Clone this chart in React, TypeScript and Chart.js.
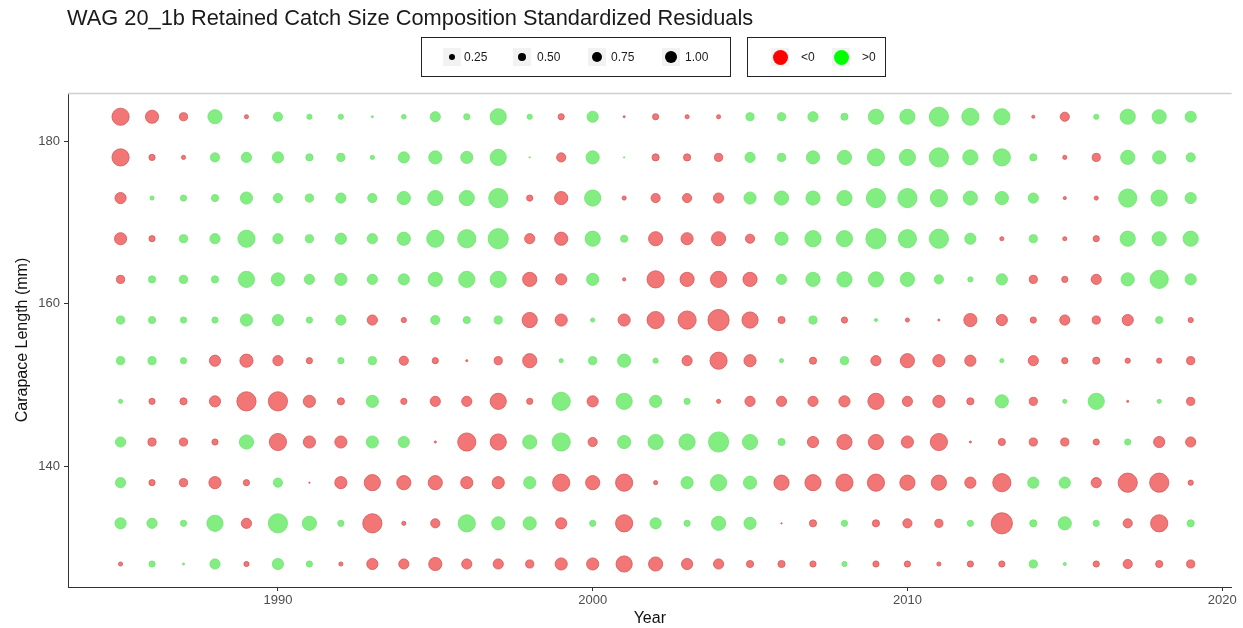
import React, { useEffect, useRef } from "react";
import { Chart, registerables } from "chart.js";

Chart.register(...registerables);

const years = [
  1985, 1986, 1987, 1988, 1989, 1990, 1991, 1992, 1993, 1994,
  1995, 1996, 1997, 1998, 1999, 2000, 2001, 2002, 2003, 2004,
  2005, 2006, 2007, 2008, 2009, 2010, 2011, 2012, 2013, 2014,
  2015, 2016, 2017, 2018, 2019,
];

const lengths = [183, 178, 173, 168, 163, 158, 153, 148, 143, 138, 133, 128];

const res183 = [-2.25, -1.36, -0.56, 1.56, -0.17, 0.69, 0.25, 0.25, 0.06, 0.21, 0.84, 0.34, 2.01, 0.25, -0.34, 1.0, -0.06, -0.34, -0.17, -0.17, 0.56, 0.56, 0.84, 0.44, 1.78, 1.78, 2.78, 2.25, 2.01, -0.11, -0.69, 0.25, 1.78, 1.56, 1.0];
const res178 = [-2.25, -0.34, -0.17, 0.69, 0.84, 1.0, 0.44, 0.56, 0.17, 1.0, 1.36, 1.17, 2.01, 0.03, -0.69, 1.36, 0.03, -0.44, -0.44, -0.56, 0.84, 0.56, 1.36, 1.56, 2.25, 2.01, 2.78, 1.78, 2.25, 0.44, -0.17, -0.56, 1.56, 1.36, 0.69];
const res173 = [-1.0, 0.17, 0.34, 0.44, 1.17, 0.69, 0.56, 0.84, 0.69, 1.36, 1.78, 1.78, 2.78, -0.34, -1.36, 2.01, -0.17, -0.69, -0.69, -0.84, 1.17, 1.56, 1.56, 1.78, 2.78, 2.78, 2.25, 1.56, 1.36, 0.84, -0.11, -0.17, 2.51, 2.01, 1.0];
const res168 = [-1.17, -0.34, 0.56, 0.84, 2.25, 0.84, 0.56, 1.0, 0.84, 1.36, 2.25, 2.51, 3.06, -0.84, -1.36, 1.78, 0.44, -1.56, -1.17, -1.56, -0.69, 1.36, 2.01, 2.01, 3.06, 2.51, 2.78, 1.0, -0.17, 0.56, -0.17, -0.34, 1.78, 1.56, 1.78];
const res163 = [-0.56, 0.44, 0.56, 0.44, 2.01, 1.36, 0.84, 1.17, 0.84, 1.0, 1.56, 2.01, 2.01, -1.56, -1.0, 1.17, -0.11, -2.25, -1.56, -2.01, -1.56, 0.84, 1.56, 1.78, 1.78, 1.56, 0.69, 0.25, 1.0, -0.56, -0.34, -0.84, 1.36, 2.51, 1.0];
const res158 = [0.56, 0.44, 0.34, 0.34, 1.17, 1.0, 0.34, 0.84, -0.84, -0.25, 0.69, 0.44, 0.56, -1.78, -1.17, 0.17, -1.17, -2.25, -2.51, -3.36, -2.01, -0.44, 0.56, -0.34, 0.11, -0.17, -0.06, -1.36, -1.0, -0.34, -0.84, -0.56, -1.0, 0.44, -0.25];
const res153 = [0.56, 0.56, 0.34, -1.0, -1.36, -0.84, -0.34, 0.34, 0.56, -0.69, -0.34, -0.06, -0.56, -1.56, 0.17, 0.56, 1.36, 0.25, -0.84, -2.25, -1.17, 0.17, -0.44, 0.56, -0.84, -1.56, -1.17, -1.0, 0.17, -0.84, -0.34, -0.44, -0.25, -0.25, -0.56];
const res148 = [0.17, -0.34, -0.44, -1.0, -2.78, -2.78, -1.17, -0.44, 1.17, -0.34, -0.84, -0.84, -2.01, -0.34, 2.51, -1.0, 2.01, 1.17, 0.34, -0.17, -0.84, -0.84, -0.84, -1.0, -2.01, -0.84, -1.17, -0.44, 1.36, -0.56, 0.17, 2.01, -0.06, 0.17, -0.56];
const res143 = [0.84, -0.56, -0.56, -0.34, 1.56, -2.25, -1.17, -1.17, 1.17, 1.0, -0.06, -2.51, -2.01, 1.56, 2.51, -0.69, 1.36, 1.78, 2.01, 3.06, 1.78, 0.44, -1.0, -1.78, -1.78, -1.17, -2.25, -0.06, -0.44, -0.56, -0.56, -0.34, 0.34, -1.0, -0.84];
const res138 = [0.84, -0.34, -0.56, -1.17, -0.34, 0.69, -0.03, -1.17, -2.01, -1.56, -1.56, -1.17, -1.17, 1.17, -2.25, -1.56, -2.25, -0.17, 1.17, 2.01, 1.36, -1.78, -2.01, -2.25, -2.25, -1.78, -1.78, -1.0, -2.51, 1.0, 1.0, -0.84, -2.78, -2.78, -0.25];
const res133 = [1.0, 0.84, 0.34, 2.01, -0.84, 2.78, 1.56, 0.34, -2.78, -0.17, -0.69, 2.25, 1.36, 1.36, -1.0, 0.34, -2.25, 1.0, 0.34, 1.56, 1.17, -0.03, -0.44, 0.34, -0.44, -0.69, -0.56, 0.34, -3.36, 0.44, 1.36, 0.34, -0.69, -2.25, 0.44];
const res128 = [-0.17, 0.34, 0.06, 0.84, -0.25, 1.0, 0.34, -0.17, -1.0, -0.84, -1.36, -0.84, -0.84, -0.56, -1.17, -1.17, -2.01, -1.56, -1.0, -0.84, -0.44, -0.44, -0.34, 0.25, -0.34, -0.34, -0.17, -0.34, -0.34, 0.56, 0.11, -0.34, -0.69, -0.44, -0.56];

const residualRows = [res183, res178, res173, res168, res163, res158, res153, res148, res143, res138, res133, res128];

const xTicks = [1990, 2000, 2010, 2020];
const yTicks = [140, 160, 180];
const sizeBreaks = [0.25, 0.5, 0.75, 1.0];
const signLabels = ["<0", ">0"];

const TITLE = "WAG 20_1b Retained Catch Size Composition Standardized Residuals";
const FONT = "'Liberation Sans', Arial, Helvetica, sans-serif";
const RED_FILL = "rgb(243,118,118)";
const RED_EDGE = "rgb(214,86,86)";
const GREEN_FILL = "rgb(130,238,130)";
const GREEN_EDGE = "rgb(112,226,112)";

const diameterOf = (v: number) => 12 * Math.sqrt(Math.abs(v));

export default function App() {
  const canvasRef = useRef<HTMLCanvasElement | null>(null);

  useEffect(() => {
    const canvas = canvasRef.current;
    if (!canvas) return;
    const points: { x: number; y: number; r: number; v: number }[] = [];
    lengths.forEach((len, i) => {
      residualRows[i].forEach((v, j) => {
        points.push({ x: years[j], y: len, r: Math.max(0.7, diameterOf(v) / 2 - 0.4), v });
      });
    });

    const topBorder = {
      id: "topBorder",
      afterDraw(chart: any) {
        const { ctx, chartArea } = chart;
        ctx.save();
        ctx.strokeStyle = "#cfcfcf";
        ctx.lineWidth = 1.5;
        ctx.beginPath();
        ctx.moveTo(chartArea.left, chartArea.top + 0.5);
        ctx.lineTo(chartArea.right, chartArea.top + 0.5);
        ctx.stroke();
        ctx.restore();
      },
    };

    const chart = new Chart(canvas, {
      type: "bubble",
      data: {
        datasets: [
          {
            data: points as any,
            backgroundColor: (c: any) => (c.raw && c.raw.v < 0 ? RED_FILL : GREEN_FILL),
            borderColor: (c: any) => (c.raw && c.raw.v < 0 ? RED_EDGE : GREEN_EDGE),
            borderWidth: 0.8,
            clip: false as any,
          },
        ],
      },
      options: {
        animation: false,
        responsive: false,
        maintainAspectRatio: false,
        layout: { padding: { top: 93, right: 11, left: 0, bottom: 0 } },
        plugins: {
          legend: { display: false },
          tooltip: { enabled: false },
          title: { display: false },
        },
        scales: {
          x: {
            type: "linear",
            min: 1983.33,
            max: 2020.3,
            afterBuildTicks: (s: any) => {
              s.ticks = xTicks.map((v) => ({ value: v }));
            },
            afterFit: (s: any) => {
              s.height = 41;
            },
            grid: { drawOnChartArea: false, drawTicks: true, tickLength: 4, color: "#333" },
            border: { display: true, color: "#333", width: 1 },
            ticks: {
              font: { family: FONT, size: 13 },
              color: "#4d4d4d",
              padding: 2,
              maxRotation: 0,
              autoSkip: false,
              callback: (v: any) => String(v),
            },
            title: {
              display: true,
              text: "Year",
              font: { family: FONT, size: 16 },
              color: "#111",
              padding: { top: 0, bottom: 0 },
            },
          },
          y: {
            type: "linear",
            min: 125.17,
            max: 185.92,
            afterBuildTicks: (s: any) => {
              s.ticks = yTicks.map((v) => ({ value: v }));
            },
            afterFit: (s: any) => {
              s.width = 68;
            },
            grid: { drawOnChartArea: false, drawTicks: true, tickLength: 4, color: "#333" },
            border: { display: true, color: "#333", width: 1 },
            ticks: {
              font: { family: FONT, size: 13 },
              color: "#4d4d4d",
              padding: 4,
              autoSkip: false,
              callback: (v: any) => String(v),
            },
            title: {
              display: true,
              text: "Carapace Length (mm)",
              font: { family: FONT, size: 16 },
              color: "#111",
              padding: { top: 13, bottom: 0 },
            },
          },
        },
      },
      plugins: [topBorder],
    });
    return () => chart.destroy();
  }, []);

  const sizeX = [452, 522, 597, 671];
  const sizeTextX = [464, 537, 611, 685];

  return (
    <div style={{ position: "absolute", left: 0, top: 0, width: 1243, height: 628, background: "#fff", fontFamily: FONT }}>
      <canvas ref={canvasRef} width={1243} height={628} style={{ position: "absolute", left: 0, top: 0, display: "block" }} />
      <div style={{ position: "absolute", left: 67, top: 6, fontSize: 21.8, lineHeight: "24px", color: "#1a1a1a", whiteSpace: "nowrap" }}>
        {TITLE}
      </div>
      <div style={{ position: "absolute", left: 421, top: 37, width: 308, height: 38, border: "1.5px solid #222", background: "#fff" }} />
      {sizeBreaks.map((b, i) => {
        const d = diameterOf(b);
        return (
          <React.Fragment key={"s" + i}>
            <div style={{ position: "absolute", left: sizeX[i] - 9, top: 48, width: 18, height: 18, background: "#f2f2f2" }} />
            <div style={{ position: "absolute", left: sizeX[i] - d / 2, top: 57 - d / 2, width: d, height: d, borderRadius: "50%", background: "#000" }} />
            <div style={{ position: "absolute", left: sizeTextX[i], top: 50, fontSize: 12, lineHeight: "14px", color: "#1a1a1a" }}>
              {b.toFixed(2)}
            </div>
          </React.Fragment>
        );
      })}
      <div style={{ position: "absolute", left: 747, top: 37, width: 137, height: 38, border: "1.5px solid #222", background: "#fff" }} />
      {signLabels.map((lab, i) => {
        const cx = i === 0 ? 780 : 841;
        const tx = i === 0 ? 801 : 862;
        return (
          <React.Fragment key={"c" + i}>
            <div style={{ position: "absolute", left: cx - 9, top: 48, width: 18, height: 18, background: "#f2f2f2" }} />
            <div style={{ position: "absolute", left: cx - 7.5, top: 57 - 7.5, width: 15, height: 15, borderRadius: "50%", background: i === 0 ? "#ff0000" : "#00ff00" }} />
            <div style={{ position: "absolute", left: tx, top: 50, fontSize: 12, lineHeight: "14px", color: "#1a1a1a" }}>{lab}</div>
          </React.Fragment>
        );
      })}
    </div>
  );
}
